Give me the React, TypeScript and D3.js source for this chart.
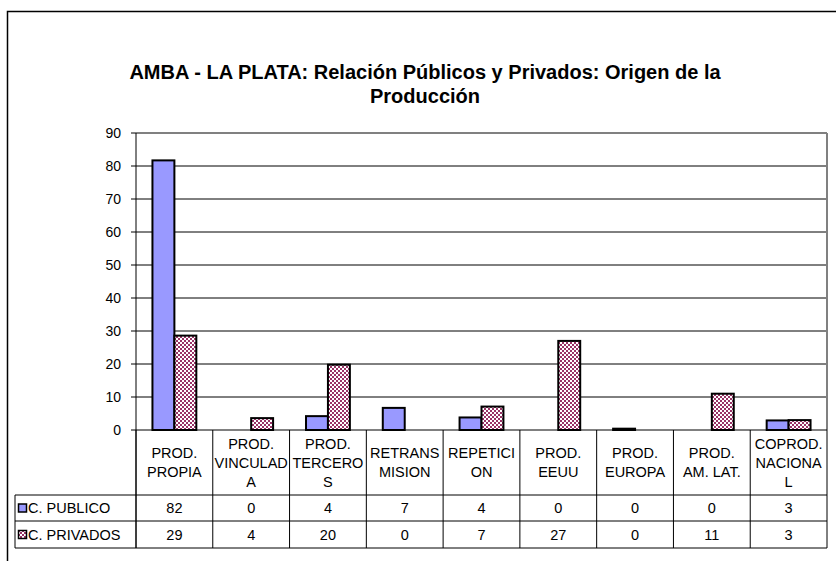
import * as d3 from "d3";
import * as React from "react";

const categories = [
  ["PROD.", "PROPIA"],
  ["PROD.", "VINCULAD", "A"],
  ["PROD.", "TERCERO", "S"],
  ["RETRANS", "MISION"],
  ["REPETICI", "ON"],
  ["PROD.", "EEUU"],
  ["PROD.", "EUROPA"],
  ["PROD.", "AM. LAT."],
  ["COPROD.", "NACIONA", "L"],
];
const seriesNames = ["C. PUBLICO", "C. PRIVADOS"];
const publico = [81.7, 0, 4.2, 6.7, 3.8, 0, 0.4, 0, 2.9];
const privados = [28.6, 3.6, 19.8, 0, 7.1, 27, 0, 11, 3.0];
const yTicks = [0, 10, 20, 30, 40, 50, 60, 70, 80, 90];

const FONT = "'Liberation Sans', Arial, sans-serif";

export default function App() {
  const width = 836, height = 561;
  const marginLeft = 136, marginRight = 9, marginTop = 133;
  const plotBottom = 430;
  const headerBottom = 495, row1Bottom = 521, row2Bottom = 548;
  const legendLeft = 15;
  const right = width - marginRight;
  const fs = 14.5;

  const keys = categories.map((c, i) => "c" + i);
  const x = d3.scaleBand().domain(keys).range([marginLeft, right]).padding(0);
  const xs = d3.scaleBand().domain(seriesNames).range([0, x.bandwidth()]).paddingInner(0).paddingOuter(0.75);
  const y = d3.scaleLinear().domain([0, 90]).range([plotBottom, marginTop]);

  const series = [publico, privados];
  const fills = ["#9999FF", "url(#checker)"];

  const gridLines = yTicks.filter((t) => t > 0 && t < 90).map((t) => (
    <line key={"g" + t} x1={marginLeft} x2={right} y1={y(t)} y2={y(t)} stroke="#000" strokeWidth={1} />
  ));
  const tickMarks = yTicks.map((t) => (
    <g key={"t" + t}>
      <line x1={marginLeft - 5} x2={marginLeft} y1={y(t)} y2={y(t)} stroke="#000" strokeWidth={1} />
      <text x={marginLeft - 15} y={y(t) + 5} textAnchor="end" fontSize={14}>{t}</text>
    </g>
  ));

  const bars = series.map((vals, si) => vals.map((v, i) => v > 0 ? (
    <rect key={"b" + si + "_" + i}
      x={(x(keys[i]) as number) + (xs(seriesNames[si]) as number)}
      y={y(v)} width={xs.bandwidth()} height={plotBottom - y(v)}
      fill={fills[si]} stroke="#000" strokeWidth={2} />
  ) : null));

  const headerMid = (plotBottom + headerBottom) / 2;
  const lineH = 19;
  const headers = categories.map((lines, i) => {
    const cx = (x(keys[i]) as number) + x.bandwidth() / 2;
    const y0 = headerMid - ((lines.length - 1) * lineH) / 2;
    return lines.map((l, j) => (
      <text key={"h" + i + j} x={cx} y={y0 + j * lineH + 5} textAnchor="middle" fontSize={fs}>{l}</text>
    ));
  });

  const rowMids = [(headerBottom + row1Bottom) / 2, (row1Bottom + row2Bottom) / 2];
  const cells = series.map((vals, si) => vals.map((v, i) => (
    <text key={"v" + si + i} x={(x(keys[i]) as number) + x.bandwidth() / 2} y={rowMids[si] + 5}
      textAnchor="middle" fontSize={fs}>{Math.round(v)}</text>
  )));

  const colLines = keys.map((k) => (
    <line key={"cl" + k} x1={x(k) as number} x2={x(k) as number} y1={plotBottom} y2={row2Bottom} stroke="#000" strokeWidth={1} />
  ));

  const legend = seriesNames.map((n, si) => (
    <g key={"lg" + si}>
      <rect x={18.5} y={rowMids[si] - 4} width={8} height={8} fill={fills[si]} stroke="#000" strokeWidth={1.5} />
      <text x={28} y={rowMids[si] + 5} fontSize={fs}>{n}</text>
    </g>
  ));

  return (
    <div style={{ position: "absolute", left: 0, top: 0 }}>
      <svg width={width} height={height} fontFamily={FONT} style={{ display: "block", background: "#fff" }}>
        <defs>
          <pattern id="checker" width={4} height={4} patternUnits="userSpaceOnUse">
            <rect width={4} height={4} fill="#fff" />
            <rect width={2} height={2} fill="#993366" />
            <rect x={2} y={2} width={2} height={2} fill="#993366" />
          </pattern>
        </defs>
        <rect x={7.5} y={11.5} width={840} height={570} fill="#fff" stroke="#000" strokeWidth={1.5} />
        <text x={425} y={79} textAnchor="middle" fontSize={20} fontWeight="bold">AMBA - LA PLATA: Relación Públicos y Privados: Origen de la</text>
        <text x={425} y={103} textAnchor="middle" fontSize={20} fontWeight="bold">Producción</text>
        {gridLines}
        <line x1={marginLeft} x2={right} y1={marginTop} y2={marginTop} stroke="#808080" strokeWidth={2} />
        <line x1={right} x2={right} y1={marginTop} y2={plotBottom} stroke="#808080" strokeWidth={2} />
        {bars}
        <line x1={marginLeft} x2={marginLeft} y1={marginTop} y2={row2Bottom} stroke="#000" strokeWidth={1} />
        {tickMarks}
        {/* table */}
        <line x1={marginLeft} x2={right} y1={plotBottom} y2={plotBottom} stroke="#000" strokeWidth={1} />
        <line x1={legendLeft} x2={right} y1={headerBottom} y2={headerBottom} stroke="#000" strokeWidth={1} />
        <line x1={legendLeft} x2={right} y1={row1Bottom} y2={row1Bottom} stroke="#000" strokeWidth={1} />
        <line x1={legendLeft} x2={right} y1={row2Bottom} y2={row2Bottom} stroke="#000" strokeWidth={1} />
        <line x1={legendLeft} x2={legendLeft} y1={headerBottom} y2={row2Bottom} stroke="#000" strokeWidth={1} />
        <line x1={right} x2={right} y1={plotBottom} y2={row2Bottom} stroke="#000" strokeWidth={1} />
        {colLines}
        {headers}
        {cells}
        {legend}
      </svg>
    </div>
  );
}
